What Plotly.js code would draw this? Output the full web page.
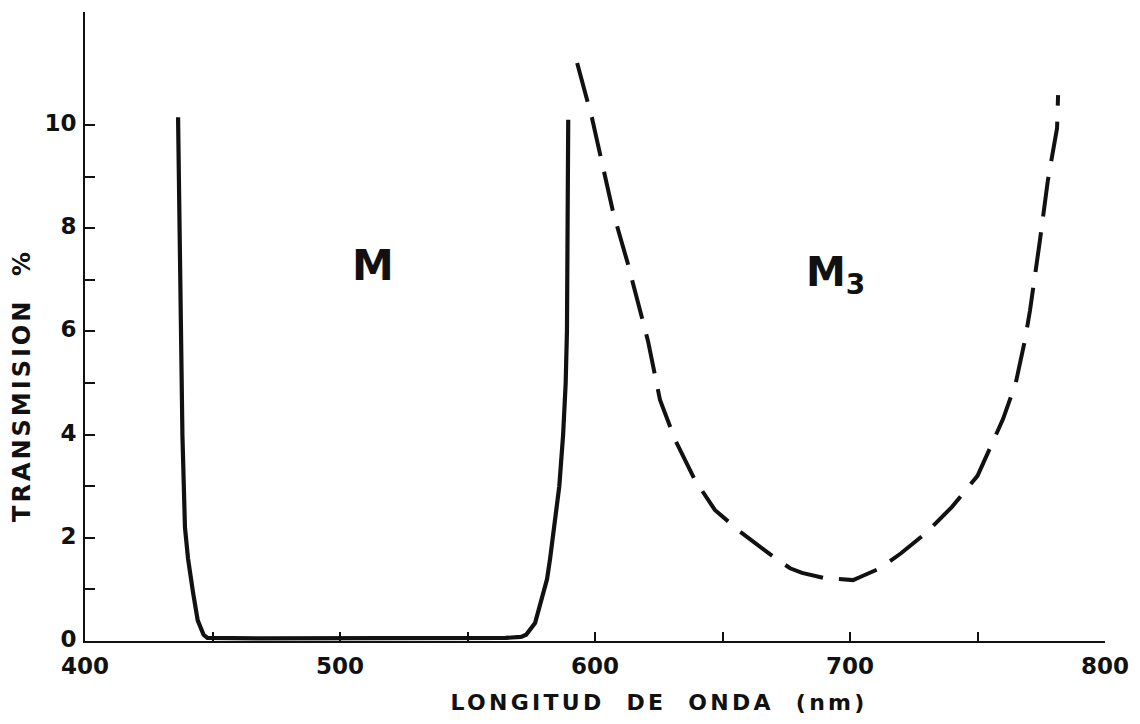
<!DOCTYPE html>
<html>
<head>
<meta charset="utf-8">
<script src="https://cdn.plot.ly/plotly-3.0.1.min.js"></script>
<style>
  html, body { margin: 0; padding: 0; background: #fff; }
  #chart { width: 1140px; height: 724px; }
  /* spaced-out capital lettering of the axis captions */
  .annotation[data-index="0"] text { letter-spacing: 3.3px; }
  .annotation[data-index="1"] text { letter-spacing: 3px; }
</style>
</head>
<body>
<div id="chart"></div>
<script>
// Filter M: solid transmission curve (wavelength in nm, transmission in %)
const mWavelength = [436.5, 437, 437.5, 438.2, 439.2, 439.8, 440.4, 442.4, 444.2, 446.5, 448,
                     470, 500, 530, 550, 565, 571, 573, 576.5, 579.2, 581.2, 582.4, 583.5,
                     585, 586, 587.5, 588.5, 589, 589.3, 589.5];
const mTransmission = [10.15, 8, 6, 4, 2.2, 1.8, 1.6, 0.93, 0.4, 0.12, 0.06,
                       0.05, 0.05, 0.05, 0.06, 0.06, 0.08, 0.12, 0.35, 0.8, 1.2, 1.6, 2.0,
                       2.5, 3.0, 4.0, 5.0, 6.0, 8.0, 10.1];

// Filter M3: dashed transmission curve
const m3Wavelength = [593, 598.8, 603.1, 607.1, 612.9, 617.6, 620.8, 625.5, 631.4, 639.2, 647,
                      656.9, 662, 670, 676.5, 681.2, 690, 701.2, 704, 711.8, 720, 730, 740,
                      750, 760, 765, 768.6, 770.6, 774.5, 777.6, 781.2, 781.6];
const m3Transmission = [11.2, 10.14, 9.19, 8.31, 7.31, 6.4, 5.81, 4.67, 3.9, 3.12, 2.54,
                        2.12, 1.92, 1.63, 1.41, 1.32, 1.22, 1.18, 1.24, 1.41, 1.7, 2.1, 2.6,
                        3.2, 4.3, 5.0, 5.83, 6.41, 7.77, 8.93, 9.94, 10.58];

// Axis ticks
const xTickVals = [400, 500, 600, 700, 800];
const xMinorTickVals = [450, 550, 650, 750];
const yTickVals = [0, 2, 4, 6, 8, 10];
const yMinorTickVals = [1, 3, 5, 7, 9];

const ink = '#111';
const tickFont = { family: 'DejaVu Sans', size: 23, color: ink, weight: 'bold' };

const traces = [
  {
    x: mWavelength, y: mTransmission, type: 'scatter', mode: 'lines',
    line: { color: ink, width: 4.2 }, hoverinfo: 'skip'
  },
  {
    x: m3Wavelength, y: m3Transmission, type: 'scatter', mode: 'lines',
    line: { color: ink, width: 4, dash: '40px,16px' }, hoverinfo: 'skip'
  }
];

const layout = {
  width: 1140, height: 724,
  margin: { l: 85, r: 35, t: 12, b: 83 },
  paper_bgcolor: '#fff', plot_bgcolor: '#fff',
  showlegend: false,
  xaxis: {
    range: [400, 800], showgrid: false, zeroline: false,
    showline: true, linecolor: ink, linewidth: 2,
    tickmode: 'array', tickvals: xTickVals,
    ticks: 'inside', ticklen: 9, tickwidth: 2, tickcolor: ink,
    minor: { tickmode: 'array', tickvals: xMinorTickVals, ticks: 'inside', ticklen: 9, tickwidth: 2, tickcolor: ink },
    tickfont: tickFont, ticklabelstandoff: 3
  },
  yaxis: {
    range: [0, 12.19], showgrid: false, zeroline: false,
    showline: true, linecolor: ink, linewidth: 2,
    tickmode: 'array', tickvals: yTickVals,
    ticks: 'inside', ticklen: 10, tickwidth: 2, tickcolor: ink,
    minor: { tickmode: 'array', tickvals: yMinorTickVals, ticks: 'inside', ticklen: 10, tickwidth: 2, tickcolor: ink },
    tickfont: tickFont, ticklabelstandoff: 2, ticklabelshift: -2
  },
  annotations: [
    {
      text: 'LONGITUD\u00a0 DE\u00a0 ONDA\u00a0 (nm)', xref: 'paper', yref: 'paper',
      x: 0.5627, y: -0.097, xanchor: 'center', yanchor: 'middle', showarrow: false,
      font: { family: 'DejaVu Sans', size: 22, color: ink, weight: 'bold' }
    },
    {
      text: 'TRANSMISION\u00a0 %', xref: 'paper', yref: 'paper', textangle: -90,
      x: -0.0618, y: 0.407, xanchor: 'center', yanchor: 'middle', showarrow: false,
      font: { family: 'DejaVu Sans', size: 24, color: ink, weight: 'bold' }
    },
    {
      text: 'M', xref: 'x', yref: 'y', x: 512.9, y: 7.27,
      xanchor: 'center', yanchor: 'middle', showarrow: false,
      font: { family: 'DejaVu Sans', size: 42, color: ink, weight: 'bold' }
    },
    {
      text: 'M<sub>3</sub>', xref: 'x', yref: 'y', x: 694.5, y: 7.1,
      xanchor: 'center', yanchor: 'middle', showarrow: false,
      font: { family: 'DejaVu Sans', size: 40, color: ink, weight: 'bold' }
    }
  ]
};

Plotly.newPlot('chart', traces, layout, { displayModeBar: false, staticPlot: true });
</script>
</body>
</html>
